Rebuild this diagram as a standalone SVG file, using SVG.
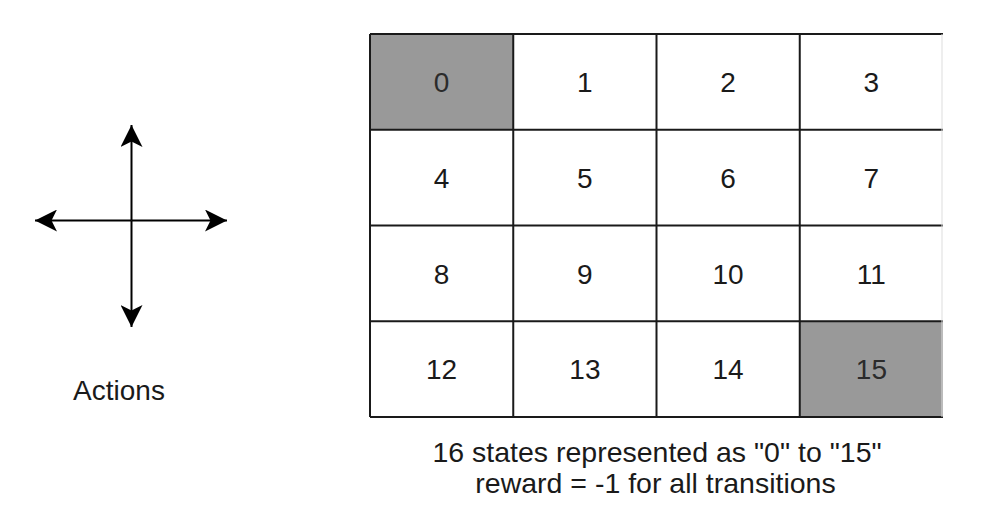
<svg xmlns="http://www.w3.org/2000/svg" width="988" height="515" viewBox="0 0 988 515">
  <defs>
    <style>
      .cell { fill: #ffffff; stroke: none; }
      .term { fill: #999999; stroke: none; }
      .grid { stroke: #1a1a1a; stroke-width: 2; fill: none; }
      .lbl { font-family: "Liberation Sans", Arial, sans-serif; font-size: 28px; fill: #1a1a1a; text-anchor: middle; }
      .cap { font-size: 28.5px; }
      .lbl-term { fill: #2b2b2b; }
      .axis { stroke: #000000; stroke-width: 2; fill: none; }
    </style>
    <marker id="arrow" markerUnits="userSpaceOnUse" markerWidth="22" markerHeight="22" viewBox="0 0 20 20" refX="20" refY="10" orient="auto">
      <path d="M20,10 L0,0 L5,10 L0,20 Z" fill="#000000"/>
    </marker>
  </defs>
  <rect width="988" height="515" fill="#ffffff"/>

  <g id="actions">
    <g id="connectors">
      <line class="axis" x1="131.5" y1="220.5" x2="131.5" y2="125" marker-end="url(#arrow)"/>
      <line class="axis" x1="131.5" y1="220.5" x2="131.5" y2="327" marker-end="url(#arrow)"/>
      <line class="axis" x1="131.5" y1="220.5" x2="35" y2="220.5" marker-end="url(#arrow)"/>
      <line class="axis" x1="131.5" y1="220.5" x2="227" y2="220.5" marker-end="url(#arrow)"/>
    </g>
    <text id="actions-label" class="lbl" x="119" y="400">Actions</text>
  </g>

  <g id="grid">
    <g id="s0"><rect class="term" x="370" y="34" width="143.25" height="95.75"/><text class="lbl lbl-term" x="441.6" y="92">0</text></g>
    <g id="s1"><rect class="cell" x="513.25" y="34" width="143.25" height="95.75"/><text class="lbl" x="584.9" y="92">1</text></g>
    <g id="s2"><rect class="cell" x="656.5" y="34" width="143.25" height="95.75"/><text class="lbl" x="728.1" y="92">2</text></g>
    <g id="s3"><rect class="cell" x="799.75" y="34" width="143.25" height="95.75"/><text class="lbl" x="871.4" y="92">3</text></g>

    <g id="s4"><rect class="cell" x="370" y="129.75" width="143.25" height="95.75"/><text class="lbl" x="441.6" y="187.7">4</text></g>
    <g id="s5"><rect class="cell" x="513.25" y="129.75" width="143.25" height="95.75"/><text class="lbl" x="584.9" y="187.7">5</text></g>
    <g id="s6"><rect class="cell" x="656.5" y="129.75" width="143.25" height="95.75"/><text class="lbl" x="728.1" y="187.7">6</text></g>
    <g id="s7"><rect class="cell" x="799.75" y="129.75" width="143.25" height="95.75"/><text class="lbl" x="871.4" y="187.7">7</text></g>

    <g id="s8"><rect class="cell" x="370" y="225.5" width="143.25" height="95.75"/><text class="lbl" x="441.6" y="283.5">8</text></g>
    <g id="s9"><rect class="cell" x="513.25" y="225.5" width="143.25" height="95.75"/><text class="lbl" x="584.9" y="283.5">9</text></g>
    <g id="s10"><rect class="cell" x="656.5" y="225.5" width="143.25" height="95.75"/><text class="lbl" x="728.1" y="283.5">10</text></g>
    <g id="s11"><rect class="cell" x="799.75" y="225.5" width="143.25" height="95.75"/><text class="lbl" x="871.4" y="283.5">11</text></g>

    <g id="s12"><rect class="cell" x="370" y="321.25" width="143.25" height="95.75"/><text class="lbl" x="441.6" y="379.2">12</text></g>
    <g id="s13"><rect class="cell" x="513.25" y="321.25" width="143.25" height="95.75"/><text class="lbl" x="584.9" y="379.2">13</text></g>
    <g id="s14"><rect class="cell" x="656.5" y="321.25" width="143.25" height="95.75"/><text class="lbl" x="728.1" y="379.2">14</text></g>
    <g id="s15"><rect class="term" x="799.75" y="321.25" width="143.25" height="95.75"/><text class="lbl lbl-term" x="871.4" y="379.2">15</text></g>

    <g id="grid-lines">
      <path class="grid" d="M370,34 H943 M370,129.75 H943 M370,225.5 H943 M370,321.25 H943 M370,417 H943"/>
      <path class="grid" d="M370,34 V417 M513.25,34 V417 M656.5,34 V417 M799.75,34 V417"/>
      <line x1="942" y1="34" x2="942" y2="417" stroke="#dddddd" stroke-width="1"/>
    </g>
  </g>

  <g id="caption">
    <text class="lbl cap" x="657" y="462">16 states represented as "0" to "15"</text>
    <text class="lbl cap" x="655.5" y="493">reward = -1 for all transitions</text>
  </g>
</svg>
